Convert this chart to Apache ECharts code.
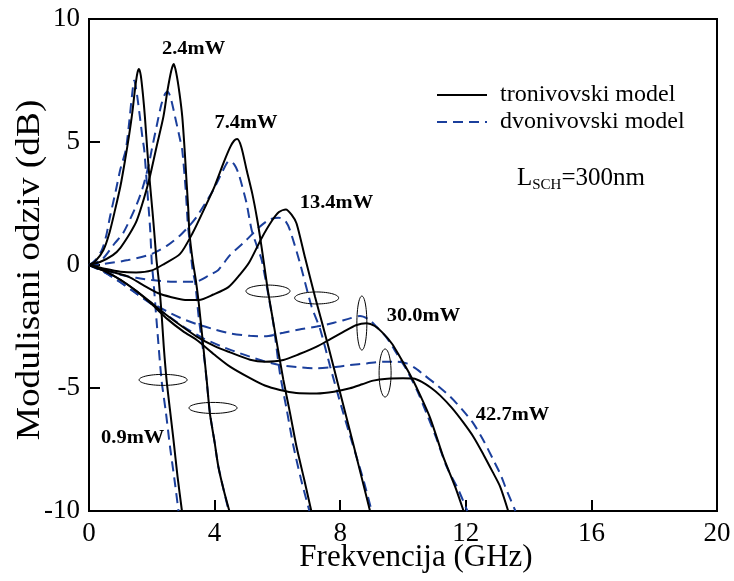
<!DOCTYPE html>
<html><head><meta charset="utf-8">
<script src="https://cdn.jsdelivr.net/npm/echarts/dist/echarts.min.js"></script>
<style>html,body{margin:0;padding:0;background:#fff}#c{width:734px;height:581px}</style>
</head><body><div id="c"></div>
<script>
// ---- data (x: GHz, y: dB) ----
const powerLabels = ['0.9mW','2.4mW','7.4mW','13.4mW','30.0mW','42.7mW'];
const labelX = [1.39, 3.33, 5.0, 7.88, 10.65, 13.49];
const labelY = [-7.03, 8.78, 5.77, 2.52, -2.07, -6.1];

const xTicks = [0,4,8,12,16,20];
const yTicks = [-10,-5,0,5,10];

// tronivovski model (solid)
const tri09 = [[0,0],[0.2,0.15],[0.46,0.61],[0.65,1.3],[0.83,2.24],[1.0,3.2],[1.15,4.27],[1.28,5.3],[1.38,6.2],[1.47,7.2],[1.54,7.8],[1.59,7.97],[1.65,7.7],[1.72,6.9],[1.78,6.03],[1.86,4.6],[1.94,3.33],[2.02,2.2],[2.08,1.3],[2.15,0.2],[2.22,-0.6],[2.31,-1.95],[2.38,-3.3],[2.47,-4.67],[2.58,-5.9],[2.69,-7.1],[2.82,-8.6],[2.96,-10]];
const tri24 = [[0,0],[0.35,0.12],[0.76,0.4],[1.0,0.7],[1.31,1.3],[1.52,1.8],[1.75,2.7],[1.94,3.6],[2.15,4.8],[2.37,6.03],[2.5,7.1],[2.62,7.9],[2.7,8.17],[2.78,7.8],[2.88,7.0],[2.97,6.03],[3.05,4.6],[3.11,3.32],[3.16,2.3],[3.2,1.29],[3.3,0.2],[3.4,-0.6],[3.5,-1.6],[3.64,-3.32],[3.75,-4.7],[3.85,-6.03],[4.0,-7.2],[4.12,-8.2],[4.3,-9.2],[4.47,-10]];
const tri74 = [[0,0],[0.5,-0.15],[1.0,-0.27],[1.5,-0.3],[2.0,-0.22],[2.4,0.05],[2.9,0.45],[3.3,1.3],[3.75,2.5],[4.0,3.2],[4.3,4.2],[4.5,4.8],[4.62,5.05],[4.72,5.12],[4.85,4.8],[5.02,3.86],[5.2,2.9],[5.35,1.9],[5.5,0.7],[5.68,-0.9],[5.82,-1.96],[6.0,-3.3],[6.19,-4.67],[6.4,-6.0],[6.61,-7.39],[6.85,-8.7],[7.08,-10]];
const tri134 = [[0,0],[0.5,-0.2],[1.25,-0.47],[1.7,-0.8],[2.21,-1.15],[2.6,-1.3],[3.06,-1.42],[3.5,-1.42],[3.96,-1.2],[4.44,-0.9],[4.8,-0.4],[5.1,0.1],[5.5,1.1],[5.8,1.75],[6.05,2.15],[6.27,2.26],[6.45,2.05],[6.61,1.69],[6.88,0.3],[7.2,-1.3],[7.6,-3.2],[8.0,-5.2],[8.42,-7.3],[8.95,-10]];
const tri300 = [[0,0],[0.5,-0.25],[1.0,-0.6],[1.5,-1.05],[2.0,-1.55],[2.26,-1.83],[2.8,-2.35],[3.43,-2.91],[4.0,-3.3],[4.49,-3.55],[5.13,-3.85],[5.6,-3.93],[6.19,-3.86],[6.7,-3.62],[7.25,-3.32],[7.7,-3.0],[8.1,-2.72],[8.5,-2.45],[8.84,-2.37],[9.1,-2.48],[9.37,-2.78],[9.65,-3.2],[9.9,-3.73],[10.2,-4.4],[10.44,-5.0],[10.86,-6.2],[11.28,-7.79],[11.66,-9.01],[11.93,-10]];
const tri427 = [[0,0],[0.5,-0.25],[1.0,-0.6],[1.5,-1.05],[2.0,-1.6],[2.5,-2.2],[3.0,-2.7],[3.43,-3.05],[4.0,-3.65],[4.49,-4.13],[5.13,-4.6],[5.6,-4.9],[6.08,-5.08],[6.6,-5.2],[7.25,-5.22],[7.8,-5.15],[8.31,-5.01],[8.7,-4.85],[9.05,-4.7],[9.5,-4.62],[10.0,-4.6],[10.33,-4.61],[10.6,-4.75],[10.9,-5.0],[11.18,-5.3],[11.55,-5.8],[11.92,-6.4],[12.25,-7.0],[12.56,-7.7],[12.85,-8.4],[13.09,-9.0],[13.35,-10]];

// dvonivovski model (dashed)
const dvo09 = [[0,0],[0.2,0.2],[0.41,0.61],[0.55,1.2],[0.67,1.97],[0.85,3.0],[1.0,3.9],[1.17,4.67],[1.28,5.8],[1.37,6.9],[1.44,7.5],[1.52,7.0],[1.62,6.03],[1.7,5.2],[1.76,4.67],[1.84,3.33],[1.9,2.3],[1.95,1.42],[2.0,0.08],[2.05,-0.61],[2.15,-2.24],[2.31,-4.67],[2.45,-6.0],[2.58,-7.39],[2.72,-8.7],[2.85,-10]];
const dvo24 = [[0,0],[0.4,0.2],[0.83,0.9],[1.09,1.3],[1.5,2.4],[1.7,3.1],[1.89,4.0],[2.0,4.7],[2.15,5.62],[2.3,6.5],[2.42,6.95],[2.5,7.05],[2.6,6.8],[2.74,6.03],[2.9,5.1],[2.97,4.67],[3.08,3.05],[3.14,1.8],[3.2,1.0],[3.3,-0.2],[3.38,-0.7],[3.5,-2.2],[3.69,-4.0],[3.85,-6.0],[4.0,-7.2],[4.12,-8.2],[4.45,-10]];
const dvo74 = [[0,0],[0.5,0.05],[1.25,0.2],[2.0,0.45],[2.5,0.8],[2.9,1.2],[3.2,1.6],[3.43,1.96],[3.7,2.5],[3.96,3.05],[4.25,3.8],[4.47,4.24],[4.62,4.1],[4.76,3.73],[4.9,3.1],[5.02,2.5],[5.18,1.42],[5.34,0.8],[5.5,0.2],[5.74,-1.42],[5.87,-2.37],[6.08,-4.4],[6.3,-5.9],[6.5,-7.3],[6.75,-8.7],[7.02,-10]];
const dvo134 = [[0,0],[0.51,-0.2],[1.0,-0.4],[1.5,-0.52],[2.0,-0.61],[2.7,-0.68],[3.38,-0.68],[3.85,-0.4],[4.12,-0.2],[4.49,0.4],[5.0,1.0],[5.39,1.5],[5.75,1.85],[6.05,1.92],[6.25,1.8],[6.4,1.42],[6.72,0.07],[7.09,-1.7],[7.36,-2.6],[7.68,-4.13],[8.1,-6.03],[8.74,-8.74],[9.0,-10]];
const dvo300 = [[0,0],[0.5,-0.3],[1.0,-0.7],[1.5,-1.15],[2.0,-1.55],[2.58,-1.95],[3.0,-2.2],[3.43,-2.4],[4.0,-2.62],[4.49,-2.78],[5.13,-2.88],[5.6,-2.9],[6.19,-2.75],[6.7,-2.62],[7.25,-2.5],[7.8,-2.35],[8.31,-2.17],[8.63,-2.07],[8.9,-2.2],[9.15,-2.5],[9.48,-2.95],[9.8,-3.6],[10.12,-4.27],[10.45,-5.1],[10.75,-6.03],[11.05,-7.0],[11.39,-8.2],[11.75,-9.1],[12.05,-10]];
const dvo427 = [[0,0],[0.5,-0.3],[1.0,-0.7],[1.5,-1.15],[2.0,-1.6],[2.5,-2.05],[3.0,-2.5],[3.64,-2.98],[4.2,-3.3],[4.81,-3.59],[5.13,-3.73],[5.6,-3.92],[6.08,-4.07],[6.6,-4.15],[7.25,-4.2],[7.8,-4.15],[8.31,-4.07],[8.85,-4.0],[9.37,-3.93],[9.8,-3.93],[10.12,-4.0],[10.4,-4.2],[10.65,-4.45],[11.0,-4.8],[11.5,-5.35],[11.9,-5.9],[12.24,-6.44],[12.55,-7.1],[12.88,-7.93],[13.1,-8.5],[13.3,-9.15],[13.58,-10]];

// ellipse annotation centers (data coords)
const ellipseX = [2.36, 3.95, 5.70, 7.25, 8.69, 9.43];
const ellipseY = [-4.67, -5.81, -1.06, -1.34, -2.36, -4.39];

// ---- styling (not data) ----
const FONT = 'Liberation Serif';
const ellipseRadii = [[24,5.5],[24,5.5],[22,6],[22,6],[5,27],[6,24]];
const SOLID_NAME = 'tronivovski model';
const DASH_NAME = 'dvonivovski model';
const BLUE = '#1b3f9c';

const solids = [tri09, tri24, tri74, tri134, tri300, tri427];
const dashes = [dvo09, dvo24, dvo74, dvo134, dvo300, dvo427];

const series = [];
dashes.forEach(d => series.push({
  name: DASH_NAME, type: 'line', data: d, symbol: 'none', smooth: 0.25,
  lineStyle: {color: BLUE, width: 2, type: [10, 6]}, itemStyle: {color: BLUE}, z: 2
}));
solids.forEach(d => series.push({
  name: SOLID_NAME, type: 'line', data: d, symbol: 'none', smooth: 0.25,
  lineStyle: {color: '#000', width: 2, type: 'solid'}, itemStyle: {color: '#000'}, z: 3
}));
series.push({
  type: 'custom', coordinateSystem: 'cartesian2d', silent: true, z: 4,
  data: ellipseX.map((x, i) => [x, ellipseY[i]]),
  renderItem: (params, api) => {
    const c = api.coord([api.value(0), api.value(1)]);
    const r = ellipseRadii[params.dataIndex];
    const pts = [];
    for (let i = 0; i <= 60; i++) {
      const t = i / 60 * 2 * Math.PI;
      pts.push([c[0] + r[0] * Math.cos(t), c[1] + r[1] * Math.sin(t)]);
    }
    return {type: 'polygon', shape: {points: pts}, style: {fill: 'none', stroke: '#000', lineWidth: 1}};
  }
});
series.push({
  type: 'custom', coordinateSystem: 'cartesian2d', silent: true, z: 5,
  data: labelX.map((x, i) => [x, labelY[i]]),
  renderItem: (params, api) => {
    const c = api.coord([api.value(0), api.value(1)]);
    return {type: 'text', x: c[0], y: c[1], scaleY: 0.93, style: {
      text: powerLabels[params.dataIndex], fontSize: 20.5, fontWeight: 'bold',
      fontFamily: FONT, fill: '#000', align: 'center', verticalAlign: 'middle'}};
  }
});

const chart = echarts.init(document.getElementById('c'), null, {renderer: 'canvas'});
chart.setOption({
  animation: false,
  backgroundColor: '#fff',
  grid: {left: 89, right: 17, top: 19, bottom: 70, show: true, borderColor: '#000', borderWidth: 2, outerBoundsMode: 'none', containLabel: false},
  legend: {
    data: [SOLID_NAME, DASH_NAME], orient: 'vertical', left: 436, top: 83, padding: 0,
    itemWidth: 50, itemHeight: 14, itemGap: 3, selectedMode: false,
    itemStyle: {opacity: 0},
    textStyle: {fontSize: 24, fontFamily: FONT, color: '#000', padding: [0, 0, 0, 8]}
  },
  graphic: [{
    type: 'text', left: 517, top: 166,
    style: {
      text: '{a|L}{b|SCH}{a|=300nm}',
      rich: {
        a: {fontSize: 25, fontFamily: FONT, fill: '#000', color: '#000', lineHeight: 28},
        b: {fontSize: 15, fontFamily: FONT, fill: '#000', color: '#000', lineHeight: 12, verticalAlign: 'bottom'}
      }
    }
  }, {
    type: 'text', x: 416, y: 558,
    style: {text: 'Frekvencija (GHz)', fontSize: 31, fontFamily: FONT, fill: '#000', align: 'center', verticalAlign: 'middle'}
  }, {
    type: 'text', x: 30, y: 270, rotation: Math.PI / 2, scaleX: 1.1,
    style: {text: 'Modulisani odziv (dB)', fontSize: 34, fontFamily: FONT, fill: '#000', align: 'center', verticalAlign: 'middle'}
  }],
  xAxis: {
    type: 'value', min: xTicks[0], max: xTicks[xTicks.length - 1], interval: xTicks[1] - xTicks[0],
    axisLine: {show: true, onZero: false, lineStyle: {color: '#000', width: 2}},
    axisTick: {show: true, inside: true, length: 11, lineStyle: {color: '#000', width: 2}},
    axisLabel: {fontSize: 27, fontFamily: FONT, color: '#000', margin: 9},
    splitLine: {show: false}
  },
  yAxis: {
    type: 'value', min: yTicks[0], max: yTicks[yTicks.length - 1], interval: yTicks[1] - yTicks[0],
    axisLine: {show: true, onZero: false, lineStyle: {color: '#000', width: 2}},
    axisTick: {show: true, inside: true, length: 11, lineStyle: {color: '#000', width: 2}},
    axisLabel: {fontSize: 27, fontFamily: FONT, color: '#000', margin: 9},
    splitLine: {show: false}
  },
  series: series
});
</script>
</body></html>
